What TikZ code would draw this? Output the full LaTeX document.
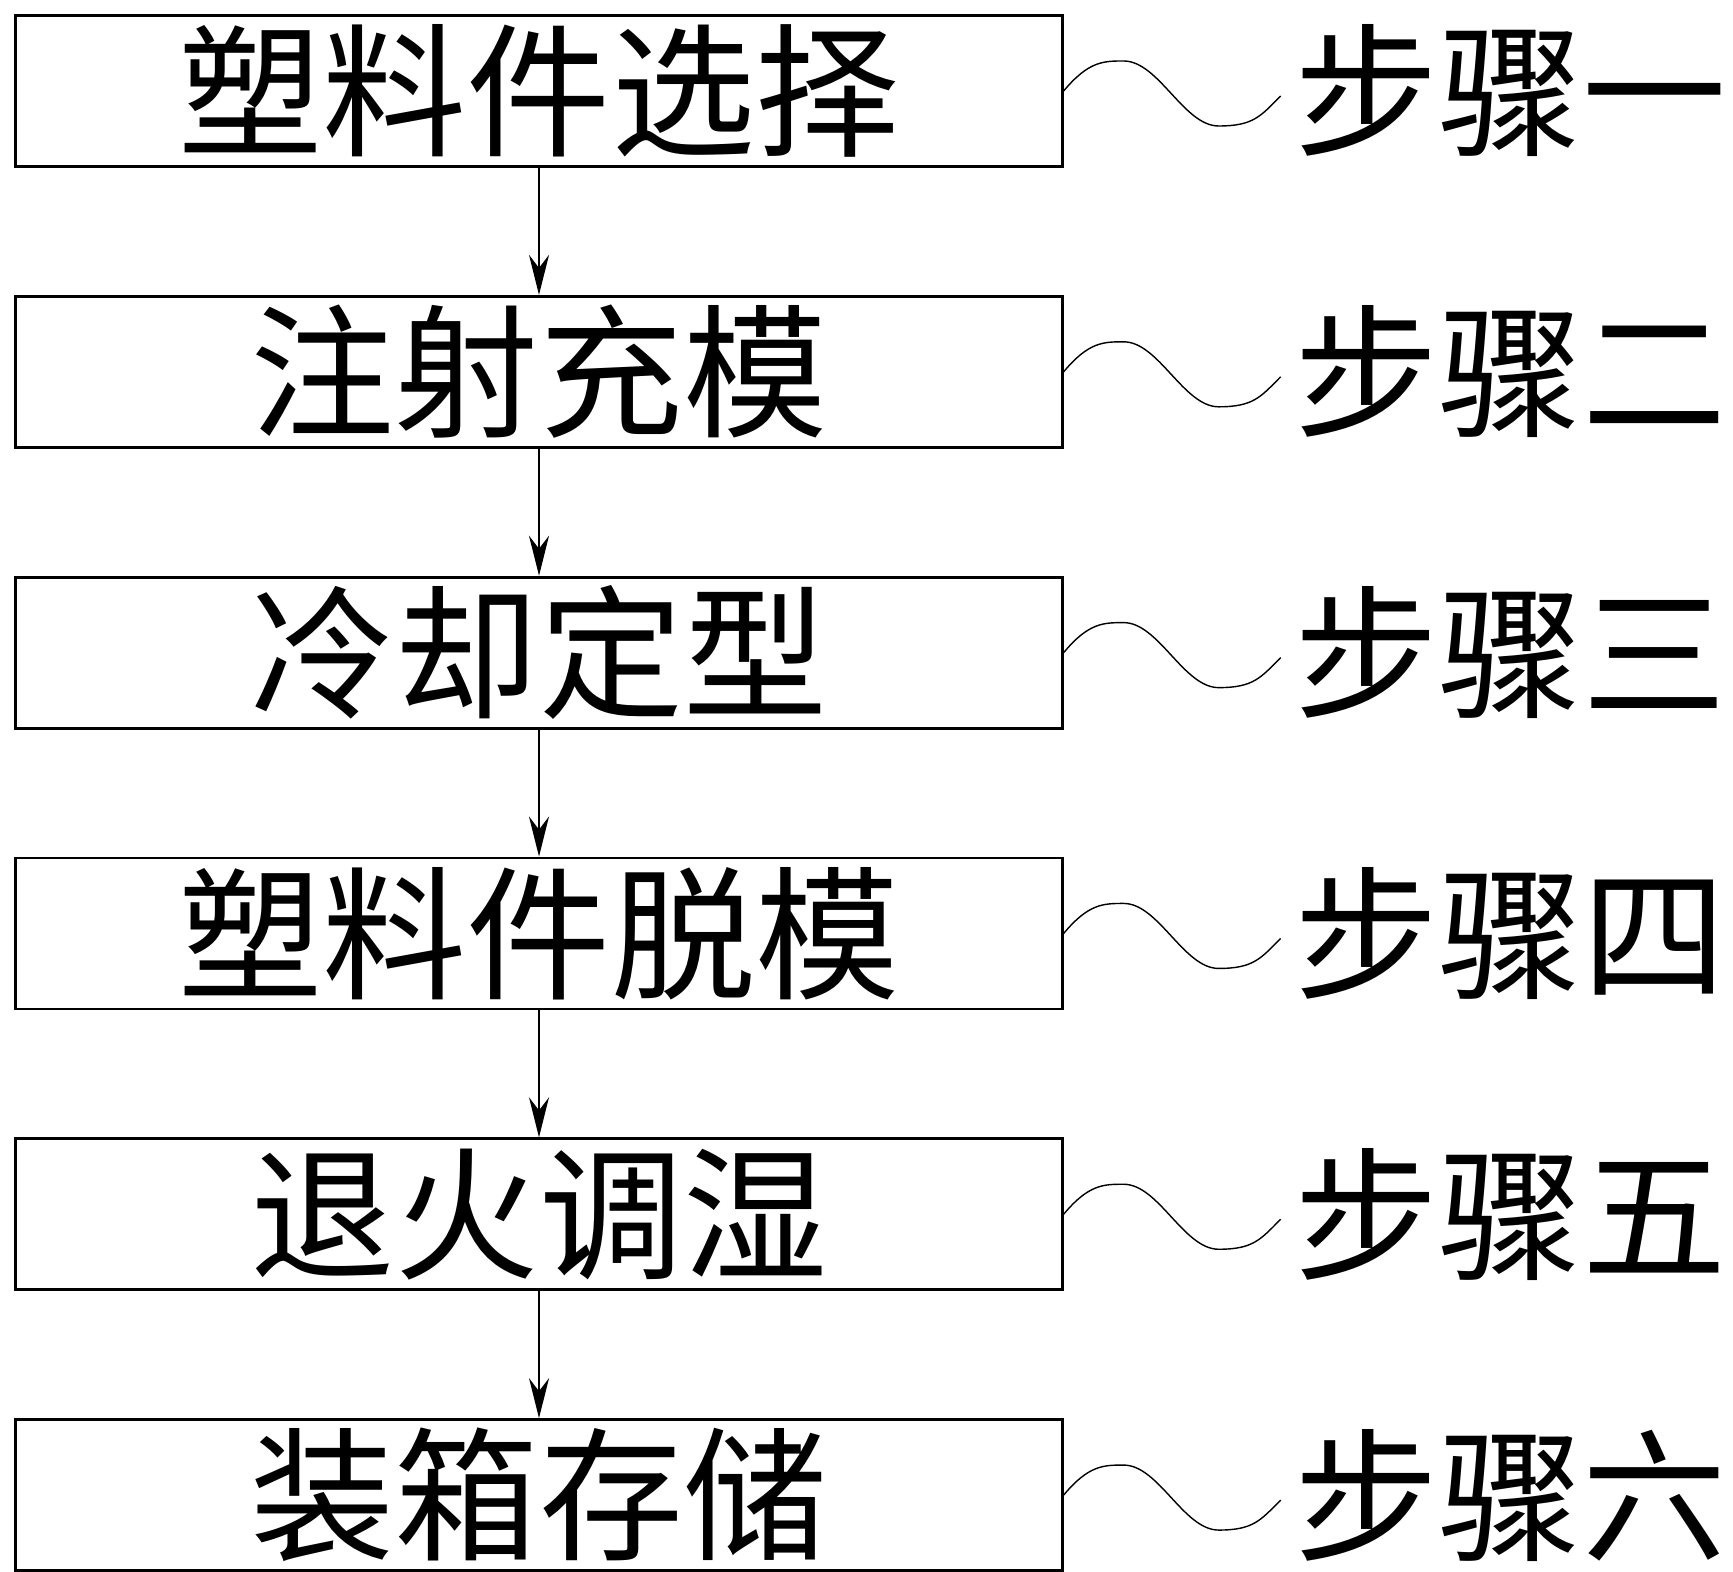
\documentclass[tikz,border=0pt]{standalone}
\usepackage{fontspec}
\newfontfamily\cjk{Noto Sans CJK SC}
\usetikzlibrary{positioning,arrows.meta}
\tikzset{
  stepbox/.style={draw,thick,minimum width=10.465cm,minimum height=1.51cm,inner sep=0pt,font=\cjk\fontsize{41}{41}\selectfont},
  steplabel/.style={anchor=west,inner sep=0pt,font=\cjk\fontsize{41}{41}\selectfont},
  flow/.style={-{Stealth[length=4mm,width=2mm]},semithick}
}
\begin{document}
\begin{tikzpicture}
\useasboundingbox (0,0) rectangle (17.33,-15.71);
\node [stepbox] (s1) at (5.39,-0.91) {塑料件选择};
\node [stepbox,below=1.27cm of s1] (s2) {注射充模};
\node [stepbox,below=1.27cm of s2] (s3) {冷却定型};
\node [stepbox,below=1.27cm of s3] (s4) {塑料件脱模};
\node [stepbox,below=1.27cm of s4] (s5) {退火调湿};
\node [stepbox,below=1.27cm of s5] (s6) {装箱存储};
\foreach \i/\n in {1/一,2/二,3/三,4/四,5/五,6/六} {
  \node [steplabel] (l\i) at ([xshift=2.3cm]s\i.east) {步骤\n};
  \draw (s\i.east) .. controls +(0.25,0.3) and +(-0.2,0) .. ++(0.6,0.3)
    .. controls +(0.35,0) and +(-0.35,0) .. ++(0.95,-0.65)
    .. controls +(0.35,0) and +(-0.2,-0.2) .. ++(0.62,0.3);
}
\foreach \a/\b in {s1/s2,s2/s3,s3/s4,s4/s5,s5/s6}
  \draw [flow] (\a) -- (\b);
\end{tikzpicture}
\end{document}
